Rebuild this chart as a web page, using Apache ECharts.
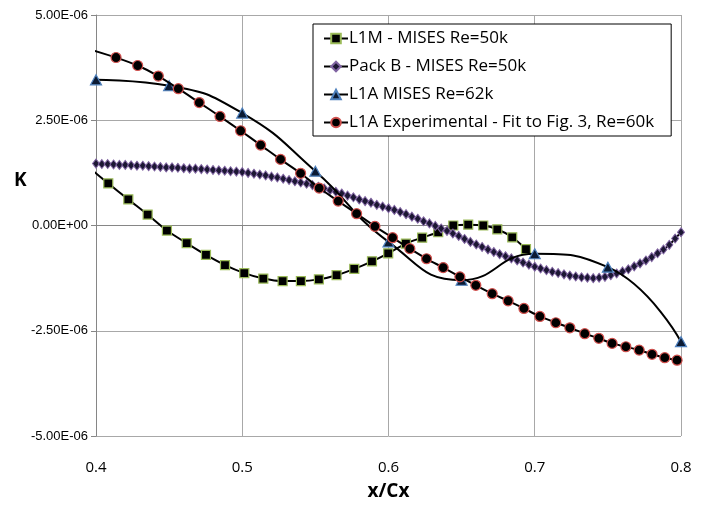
<!DOCTYPE html>
<html>
<head>
<meta charset="utf-8">
<script src="https://cdn.jsdelivr.net/npm/echarts@6/dist/echarts.min.js"></script>
<style>
  html, body { margin: 0; padding: 0; background: #fff; }
  #main { width: 708px; height: 508px; }
</style>
</head>
<body>
<div id="main"></div>
<script>
// K values are in units of 1e-6, the axis labels put the exponent back
var seriesNames = [
  "L1M - MISES Re=50k",
  "Pack B - MISES Re=50k",
  "L1A MISES Re=62k",
  "L1A Experimental - Fit to Fig. 3, Re=60k"
];

var l1mX = [0.395, 0.4084, 0.4221, 0.4353, 0.4485, 0.462, 0.4752, 0.4882, 0.5014, 0.5144, 0.5276,
  0.5401, 0.5524, 0.5645, 0.5766, 0.5887, 0.5998, 0.6119, 0.623, 0.634, 0.6443, 0.6545,
  0.6648, 0.6744, 0.6846, 0.694];
var l1mK = [1.38, 1.00, 0.62, 0.26, -0.12, -0.42, -0.70, -0.94, -1.13, -1.26, -1.32,
  -1.32, -1.28, -1.18, -1.03, -0.85, -0.66, -0.43, -0.29, -0.16, 0.0, 0.02,
  0.0, -0.09, -0.28, -0.56];

var packBX = [0.400, 0.404, 0.408, 0.412, 0.416, 0.420, 0.424, 0.428, 0.432, 0.436,
  0.440, 0.444, 0.448, 0.452, 0.456, 0.460, 0.464, 0.468, 0.472, 0.476,
  0.480, 0.484, 0.488, 0.492, 0.496, 0.500, 0.504, 0.508, 0.512, 0.516,
  0.520, 0.524, 0.528, 0.532, 0.536, 0.540, 0.544, 0.548, 0.552, 0.556,
  0.560, 0.564, 0.568, 0.572, 0.576, 0.580, 0.584, 0.588, 0.592, 0.596,
  0.600, 0.604, 0.608, 0.612, 0.616, 0.620, 0.624, 0.628, 0.632, 0.636,
  0.640, 0.644, 0.648, 0.652, 0.656, 0.660, 0.664, 0.668, 0.672, 0.676,
  0.680, 0.684, 0.688, 0.692, 0.696, 0.700, 0.704, 0.708, 0.712, 0.716,
  0.720, 0.724, 0.728, 0.732, 0.736, 0.740, 0.744, 0.748, 0.752, 0.756,
  0.760, 0.764, 0.768, 0.772, 0.776, 0.780, 0.784, 0.788, 0.792, 0.796, 0.800];
var packBK = [1.47, 1.46, 1.46, 1.45, 1.44, 1.44, 1.43, 1.42, 1.42, 1.41,
  1.40, 1.39, 1.38, 1.38, 1.37, 1.36, 1.35, 1.35, 1.34, 1.33,
  1.32, 1.31, 1.30, 1.29, 1.28, 1.27, 1.25, 1.23, 1.21, 1.19,
  1.16, 1.14, 1.11, 1.08, 1.05, 1.02, 0.99, 0.96, 0.92, 0.88,
  0.84, 0.80, 0.76, 0.71, 0.67, 0.62, 0.58, 0.54, 0.49, 0.45,
  0.41, 0.37, 0.32, 0.27, 0.21, 0.16, 0.10, 0.05, -0.01, -0.07,
  -0.13, -0.19, -0.25, -0.32, -0.39, -0.45, -0.51, -0.57, -0.63, -0.68,
  -0.73, -0.78, -0.83, -0.88, -0.93, -0.98, -1.02, -1.06, -1.10, -1.13,
  -1.16, -1.19, -1.21, -1.23, -1.24, -1.25, -1.24, -1.22, -1.18, -1.14,
  -1.09, -1.04, -0.97, -0.90, -0.83, -0.75, -0.66, -0.57, -0.46, -0.31, -0.16];

var l1aMisesX = [0.40, 0.45, 0.50, 0.55, 0.60, 0.65, 0.70, 0.75, 0.80];
var l1aMisesK = [3.46, 3.32, 2.67, 1.29, -0.39, -1.30, -0.67, -0.99, -2.76];

var expX = [0.399, 0.4137, 0.4285, 0.4426, 0.4563, 0.4706, 0.4848, 0.4989, 0.5126, 0.5262,
  0.5399, 0.5526, 0.5656, 0.5782, 0.5907, 0.6028, 0.6146, 0.626, 0.6374, 0.6488,
  0.6597, 0.6709, 0.6818, 0.6926, 0.7035, 0.7144, 0.724, 0.7342, 0.7438, 0.7529,
  0.7623, 0.7714, 0.7802, 0.7889, 0.7973];
var expK = [4.15, 3.99, 3.80, 3.55, 3.25, 2.92, 2.59, 2.25, 1.91, 1.57,
  1.24, 0.89, 0.58, 0.28, -0.02, -0.29, -0.55, -0.79, -1.00, -1.22,
  -1.42, -1.62, -1.79, -1.97, -2.16, -2.31, -2.43, -2.57, -2.68, -2.80,
  -2.88, -2.96, -3.06, -3.14, -3.20];

var xTicks = { min: 0.4, max: 0.8, step: 0.1 };
var yTicks = { min: -5, max: 5, step: 2.5 };

function pairs(xs, ys) {
  return xs.map(function (x, i) { return [x, ys[i]]; });
}

// 5.00E-06 style labels
function sciLabel(v) {
  var real = v * 1e-6;
  if (Math.abs(real) < 1e-15) return "0.00E+00";
  var s = real.toExponential(2).toUpperCase();
  var parts = s.split("E");
  var exp = parseInt(parts[1], 10);
  var sign = exp < 0 ? "-" : "+";
  var e = Math.abs(exp);
  return parts[0] + "E" + sign + (e < 10 ? "0" + e : e);
}

var myChart = echarts.init(document.getElementById("main"));

var lineBase = { color: "#000", width: 2 };

var option = {
  animation: false,
  backgroundColor: "#fff",
  textStyle: { fontFamily: "Liberation Sans" },
  grid: { left: 96, right: 27, top: 15, bottom: 72 },
  legend: {
    orient: "vertical",
    left: 313,
    top: 24,
    padding: [5, 17, 4, 10],
    itemGap: 9,
    itemWidth: 24,
    itemHeight: 12,
    backgroundColor: "#fff",
    borderColor: "#000",
    borderWidth: 1,
    borderRadius: 0,
    textStyle: { color: "#000", fontSize: 17, lineHeight: 19, fontFamily: "Open Sans", padding: [0, 0, 0, -4] },
    data: seriesNames
  },
  xAxis: {
    type: "value",
    min: xTicks.min,
    max: xTicks.max,
    interval: xTicks.step,
    name: "x/Cx",
    nameLocation: "middle",
    nameGap: 46,
    nameTextStyle: { color: "#000", fontSize: 19, fontWeight: "bold", fontFamily: "Open Sans" },
    axisLine: { lineStyle: { color: "#868686", width: 1 } },
    axisTick: { show: true, length: 5, lineStyle: { color: "#868686" } },
    axisLabel: {
      color: "#000", fontSize: 15, margin: 24, fontFamily: "Open Sans",
      formatter: function (v) { return v.toFixed(1); }
    },
    splitLine: { show: true, lineStyle: { color: "#a8a8a8", width: 1 } }
  },
  yAxis: {
    type: "value",
    min: yTicks.min,
    max: yTicks.max,
    interval: yTicks.step,
    axisLine: { show: true, lineStyle: { color: "#868686", width: 1 } },
    axisTick: { show: true, length: 5, lineStyle: { color: "#868686" } },
    axisLabel: { color: "#000", fontSize: 13, margin: 8, formatter: sciLabel },
    splitLine: { show: true, lineStyle: { color: "#a8a8a8", width: 1 } }
  },
  graphic: [
    {
      type: "text",
      left: 14,
      top: 171,
      style: { text: "K", fill: "#000", font: "bold 19px 'Open Sans'" }
    }
  ],
  series: [
    {
      name: seriesNames[0],
      type: "line",
      data: pairs(l1mX, l1mK),
      smooth: 0.3,
      symbol: "rect",
      symbolSize: 9,
      lineStyle: lineBase,
      itemStyle: { color: "#000", borderColor: "#9BBB59", borderWidth: 1.2 },
      z: 2
    },
    {
      name: seriesNames[1],
      type: "line",
      data: pairs(packBX, packBK),
      smooth: 0.3,
      symbol: "diamond",
      symbolSize: [7, 9],
      lineStyle: lineBase,
      itemStyle: { color: "#1c1733", borderColor: "#8064A2", borderWidth: 1 },
      z: 3
    },
    {
      name: seriesNames[2],
      type: "line",
      data: pairs(l1aMisesX, l1aMisesK),
      smooth: 0.5,
      symbol: "triangle",
      symbolSize: [11, 10],
      lineStyle: lineBase,
      itemStyle: { color: "#0b1a33", borderColor: "#4F81BD", borderWidth: 1.2 },
      z: 4
    },
    {
      name: seriesNames[3],
      type: "line",
      data: pairs(expX, expK),
      smooth: 0.3,
      symbol: "circle",
      symbolSize: 10,
      lineStyle: lineBase,
      itemStyle: { color: "#000", borderColor: "#D0504D", borderWidth: 1.2 },
      z: 5
    }
  ]
};

myChart.setOption(option, true);
</script>
</body>
</html>
